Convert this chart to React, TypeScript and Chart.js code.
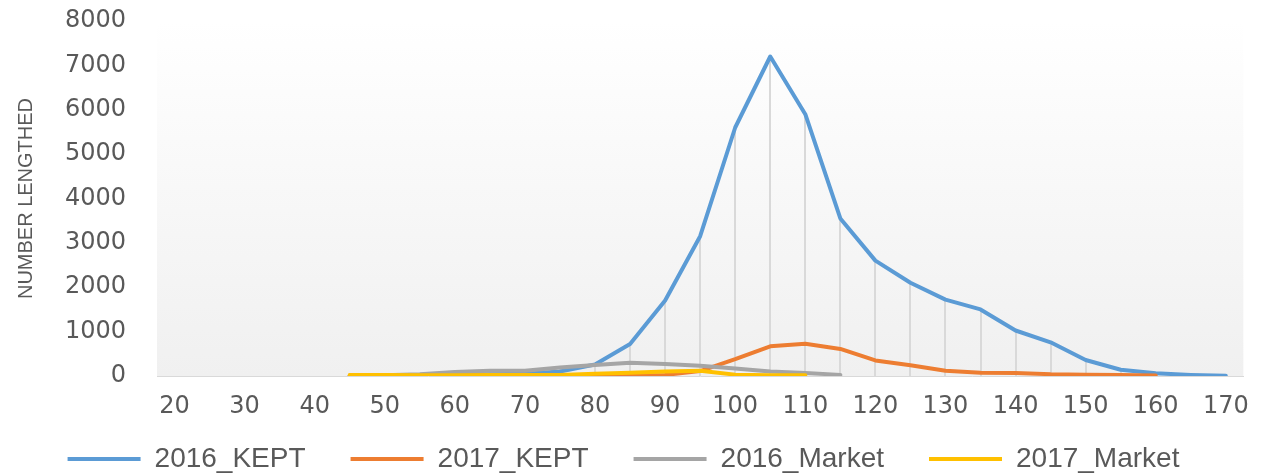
import React, { useEffect, useRef } from "react";
import { Chart, registerables } from "chart.js";

Chart.register(...registerables);

const categories: string[] = [
  "20", "25", "30", "35", "40", "45", "50", "55", "60", "65", "70", "75", "80", "85", "90", "95",
  "100", "105", "110", "115", "120", "125", "130", "135", "140", "145", "150", "155", "160", "165", "170",
];

const kept2016: (number | null)[] = [
  null, null, null, null, null, 5, 10, 15, 25, 40, 50, 100, 260, 720, 1700, 3150,
  5600, 7200, 5900, 3550, 2600, 2100, 1720, 1500, 1025, 760, 360, 140, 60, 25, 5,
];

const kept2017: (number | null)[] = [
  null, null, null, null, null, 10, 10, 10, 10, 10, 10, 10, 10, 15, 25, 110,
  380, 670, 725, 610, 350, 240, 120, 75, 70, 40, 30, 20, 10, null, null,
];

const market2016: (number | null)[] = [
  null, null, null, null, null, 5, 15, 40, 90, 120, 120, 190, 250, 300, 270, 230,
  170, 100, 70, 25, null, null, null, null, null, null, null, null, null, null, null,
];

const market2017: (number | null)[] = [
  null, null, null, null, null, 20, 20, 15, 15, 20, 20, 25, 50, 75, 100, 120,
  30, 15, 15, null, null, null, null, null, null, null, null, null, null, null, null,
];

const yTicks: number[] = [0, 1000, 2000, 3000, 4000, 5000, 6000, 7000, 8000];

const seriesNames = ["2016_KEPT", "2017_KEPT", "2016_Market", "2017_Market"];
const seriesColors = ["#5B9BD5", "#ED7D31", "#A5A5A5", "#FFC000"];

const bgPlugin = {
  id: "plotBg",
  afterLayout(chart: any) {
    // let the x-axis labels draw below the (short) axis box without clipping
    const xs = chart.scales.x;
    if (xs) xs.bottom = chart.height;
  },
  beforeDraw(chart: any) {
    const { ctx, chartArea } = chart;
    if (!chartArea) return;
    const g = ctx.createLinearGradient(0, chartArea.top, 0, chartArea.bottom);
    g.addColorStop(0, "#ffffff");
    g.addColorStop(1, "#f0f0f0");
    ctx.save();
    ctx.fillStyle = g;
    ctx.fillRect(chartArea.left, chartArea.top, chartArea.right - chartArea.left, chartArea.bottom - chartArea.top);
    ctx.restore();
  },
};

const dropLinePlugin = {
  id: "dropLines",
  beforeDatasetsDraw(chart: any) {
    const { ctx, scales } = chart;
    const xs = scales.x;
    const ys = scales.y;
    const ds = chart.data.datasets;
    ctx.save();
    ctx.strokeStyle = "#d9d9d9";
    ctx.lineWidth = 2;
    for (let i = 0; i < categories.length; i++) {
      let max: number | null = null;
      for (const d of ds) {
        const v = d.data[i];
        if (v !== null && v !== undefined && (max === null || v > max)) max = v;
      }
      if (max === null) continue;
      const x = Math.round(xs.getPixelForValue(i));
      ctx.beginPath();
      ctx.moveTo(x, ys.getPixelForValue(max));
      ctx.lineTo(x, ys.getPixelForValue(0));
      ctx.stroke();
    }
    ctx.restore();
  },
};

export default function App() {
  const ref = useRef<HTMLCanvasElement | null>(null);

  useEffect(() => {
    if (!ref.current) return;
    const values = [kept2016, kept2017, market2016, market2017];
    const chart = new Chart(ref.current, {
      type: "line",
      data: {
        labels: categories,
        datasets: values.map((v, i) => ({
          label: seriesNames[i],
          data: v,
          borderColor: seriesColors[i],
          backgroundColor: seriesColors[i],
          borderWidth: 4,
          pointRadius: 0,
          pointHoverRadius: 0,
          tension: 0,
          fill: false,
          spanGaps: false,
          borderJoinStyle: "round",
          borderCapStyle: "round",
          order: 4 - i,
        })) as any,
      },
      options: {
        animation: false,
        responsive: true,
        maintainAspectRatio: false,
        layout: { padding: { top: 21, right: 18, bottom: -10, left: 0 } },
        plugins: {
          tooltip: { enabled: false },
          legend: {
            position: "bottom",
            labels: {
              boxWidth: 73,
              boxHeight: 4,
              padding: 45,
              color: "#595959",
              font: { family: "'Liberation Sans', Arial, sans-serif", size: 28 },
              sort: (a: any, b: any) => a.datasetIndex - b.datasetIndex,
              generateLabels: (chart: any) => {
                const items = Chart.defaults.plugins.legend.labels.generateLabels(chart);
                return items.map((it: any) => ({ ...it, lineWidth: 0, fillStyle: seriesColors[it.datasetIndex] }));
              },
            },
          },
        },
        scales: {
          x: {
            offset: true,
            grid: { display: false, drawTicks: false },
            border: { display: true, color: "#d9d9d9", width: 1 },
            ticks: {
              autoSkip: false,
              maxRotation: 0,
              padding: 16,
              color: "#595959",
              font: { family: "'DejaVu Sans', sans-serif", size: 24 },
              callback: (_v: any, i: number) => (i % 2 === 0 ? categories[i] : ""),
            },
            afterFit: (s: any) => {
              s.height = 24;
            },
          },
          y: {
            min: 0,
            max: 8000,
            afterBuildTicks: (s: any) => {
              s.ticks = yTicks.map((v) => ({ value: v }));
            },
            grid: { display: false, drawTicks: false },
            border: { display: false },
            ticks: {
              padding: 31,
              color: "#595959",
              font: { family: "'DejaVu Sans', sans-serif", size: 24 },
              callback: (v: any) => String(v),
            },
            title: {
              display: true,
              text: "NUMBER LENGTHED",
              color: "#595959",
              font: { family: "'Liberation Sans', Arial, sans-serif", size: 20 },
              padding: { top: 14, bottom: 0 },
            },
            afterFit: (s: any) => {
              s.width = 157;
              s.paddingTop = 0;
              s.paddingBottom = 0;
            },
          },
        },
      },
      plugins: [bgPlugin, dropLinePlugin],
    });
    return () => chart.destroy();
  }, []);

  return (
    <div style={{ position: "fixed", left: 0, top: 0, width: 1265, height: 473 }}>
      <canvas ref={ref} />
    </div>
  );
}
